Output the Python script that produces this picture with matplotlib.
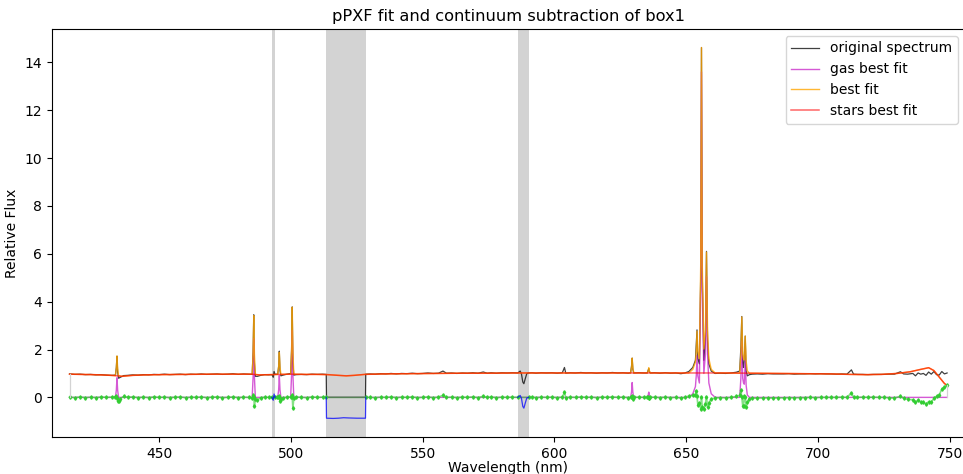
import numpy as np
import matplotlib
matplotlib.use("Agg")
import matplotlib.pyplot as plt

# stellar continuum (stars best fit)
star_wave = [416, 420, 425, 430, 433, 436, 440, 445, 450, 460, 470, 480, 485, 488,
             492, 496, 500, 505, 510, 514, 518, 521, 524, 528, 535, 545, 555, 565,
             575, 585, 595, 605, 615, 625, 635, 645, 655, 665, 675, 685, 695, 705,
             712, 718, 724, 730, 735, 739, 742, 744, 746, 748, 749]
star_flux = [0.97, 0.96, 0.95, 0.93, 0.91, 0.88, 0.92, 0.94, 0.95, 0.96, 0.97, 0.97, 0.97, 0.94,
             0.95, 0.96, 0.97, 0.96, 0.96, 0.95, 0.92, 0.90, 0.92, 0.96, 0.98, 0.99, 1.00, 1.01,
             1.01, 1.02, 1.02, 1.02, 1.02, 1.02, 1.02, 1.02, 1.02, 1.02, 1.01, 1.00, 0.99, 0.98,
             0.96, 0.95, 0.96, 1.00, 1.07, 1.17, 1.24, 1.12, 0.85, 0.58, 0.50]

# gas emission (gas best fit)
gas_wave = [416,
            433.4, 433.75, 434.0, 434.25, 434.6,
            485.3, 485.65, 485.9, 486.15, 486.5,
            495.0, 495.35, 495.6, 495.85, 496.2,
            499.9, 500.25, 500.5, 500.75, 501.1,
            628.9, 629.25, 629.5, 629.75, 630.1,
            635.2, 635.55, 635.8, 636.05, 636.4,
            651.0, 652.5, 653.5, 653.85, 654.1, 654.4, 655.0, 655.5, 655.8, 656.1,
            656.7, 657.3, 657.7, 658.1, 658.6, 659.5, 661.0,
            670.3, 670.75, 671.1, 671.45, 671.75, 672.05, 672.4, 672.75, 673.2, 674.0,
            749]
gas_flux = [0,
            0, 0.30, 0.82, 0.30, 0,
            0, 0.85, 2.45, 0.85, 0,
            0, 0.32, 0.92, 0.32, 0,
            0, 0.95, 2.80, 0.95, 0,
            0, 0.22, 0.62, 0.22, 0,
            0, 0.08, 0.22, 0.08, 0,
            0, 0.15, 0.45, 0.95, 1.75, 0.90, 0.60, 4.50, 13.60, 4.50,
            1.00, 1.80, 5.05, 1.80, 0.60, 0.15, 0,
            0, 0.80, 2.35, 0.80, 0.60, 0.55, 1.55, 0.50, 0.10, 0,
            0]

# total best fit
fit_wave = [416, 420, 425, 430, 433.4, 433.75, 434.0, 434.25, 434.6, 436, 440, 445, 450,
            460, 470, 480, 485.3, 485.65, 485.9, 486.15, 486.5, 488, 492, 495.0, 495.35,
            495.6, 495.85, 496.2, 499.9, 500.25, 500.5, 500.75, 501.1, 505, 510, 514, 518,
            521, 524, 528, 535, 545, 555, 565, 575, 585, 595, 605, 615, 625, 628.9, 629.25,
            629.5, 629.75, 630.1, 635.2, 635.55, 635.8, 636.05, 636.4, 645, 651.0, 652.5,
            653.5, 653.85, 654.1, 654.4, 655.0, 655.5, 655.8, 656.1, 656.7, 657.3, 657.7,
            658.1, 658.6, 659.5, 661.0, 665, 670.3, 670.75, 671.1, 671.45, 671.75, 672.05,
            672.4, 672.75, 673.2, 674.0, 675, 685, 695, 705, 712, 718, 724, 730, 735, 739,
            742, 744, 746, 748, 749]
fit_flux = [0.97, 0.96, 0.95, 0.93, 0.91, 1.21, 1.73, 1.21, 0.90, 0.88, 0.92, 0.94, 0.95,
            0.96, 0.97, 0.97, 0.97, 1.82, 3.42, 1.82, 0.96, 0.94, 0.95, 0.96, 1.28,
            1.88, 1.28, 0.96, 0.97, 1.92, 3.77, 1.92, 0.97, 0.96, 0.96, 0.95, 0.92,
            0.90, 0.92, 0.96, 0.98, 0.99, 1.00, 1.01, 1.01, 1.02, 1.02, 1.02, 1.02, 1.02, 1.02, 1.24,
            1.64, 1.24, 1.02, 1.02, 1.10, 1.24, 1.10, 1.02, 1.02, 1.02, 1.17,
            1.47, 1.97, 2.77, 1.92, 1.62, 5.52, 14.62, 5.52, 2.02, 2.82, 6.07,
            2.82, 1.62, 1.17, 1.02, 1.02, 1.01, 1.81, 3.36, 1.81, 1.61, 1.56,
            2.56, 1.51, 1.11, 1.01, 1.01, 1.00, 0.99, 0.98, 0.96, 0.95, 0.96, 1.00, 1.07, 1.17,
            1.24, 1.12, 0.85, 0.58, 0.50]

# original spectrum and residuals (original - best fit)
spec_wave = [416, 418, 420, 422, 424, 426, 428, 430, 432, 433.4,
             433.75, 434.0, 434.25, 434.6, 435.3, 436.5, 438, 440, 442, 444,
             446, 448, 450, 452, 454, 456, 458, 460, 462, 464,
             466, 468, 470, 472, 474, 476, 478, 480, 482, 484,
             485.3, 485.65, 485.9, 486.15, 486.5, 487.3, 488.5, 490, 491.5, 492.8,
             493.3, 493.6, 494.0, 494.7, 495.0, 495.35, 495.6, 495.85, 496.2, 497,
             498.5, 499.9, 500.25, 500.5, 500.75, 501.1, 502, 504, 506, 508,
             510, 512, 513.4, 513.5, 516, 518, 520, 522, 525, 528.3,
             528.4, 530, 532, 534, 536, 538, 540, 542, 544, 546,
             548, 550, 552, 554, 556, 557.7, 559, 561, 563, 565,
             567, 569, 571, 573, 574.5, 576, 578, 580, 582, 584,
             586.1, 587.0, 587.5, 588.0, 588.4, 588.9, 589.5, 590.2, 591.5, 593,
             595, 597, 599, 601, 603, 603.8, 604.3, 606, 608, 610,
             612, 614, 616, 618, 620, 622, 624, 626, 628, 628.9,
             629.25, 629.5, 629.75, 630.1, 632, 634, 635.2, 635.55, 635.8, 636.05,
             636.4, 638, 640, 642, 644, 646, 648, 649.5, 651.0, 652.5,
             653.5, 653.85, 654.1, 654.4, 655.0, 655.5, 655.8, 656.1, 656.7, 657.3,
             657.7, 658.1, 658.6, 659.5, 661, 663, 665, 667, 669, 670.3,
             670.75, 671.1, 671.45, 671.75, 672.05, 672.4, 672.75, 673.2, 674, 675,
             677, 679, 681, 683, 685, 687, 689, 691, 693, 695,
             697, 699, 701, 703, 705, 707, 709, 711, 712.7, 713.5,
             715, 717, 719, 721, 723, 725, 727, 729, 731.3, 732.5,
             734, 736, 737, 738, 739, 740, 741, 742, 743, 744,
             745, 746, 747, 748, 749]
spec_flux = [0.98, 0.96, 0.97, 0.95, 0.96, 0.94, 0.95, 0.93, 0.92, 0.93,
             1.25, 1.72, 1.05, 0.80, 0.84, 0.91, 0.92, 0.94, 0.93, 0.95,
             0.94, 0.96, 0.95, 0.97, 0.95, 0.96, 0.97, 0.95, 0.97, 0.96,
             0.98, 0.96, 0.97, 0.98, 0.96, 0.97, 0.99, 0.96, 0.98, 0.97,
             0.96, 1.90, 3.45, 1.45, 0.88, 0.88, 0.92, 0.95, 0.94, 0.95,
             0.84, 1.08, 0.96, 0.97, 0.98, 1.30, 1.93, 1.12, 0.90, 0.93,
             0.97, 1.00, 2.00, 3.78, 1.45, 0.93, 0.95, 0.96, 0.95, 0.97,
             0.96, 0.97, 0.96, 0.00, 0.00, 0.00, 0.00, 0.00, 0.00, 0.00,
             0.97, 0.98, 0.97, 0.99, 0.98, 1.00, 0.98, 1.00, 0.99, 1.01,
             0.99, 1.00, 1.02, 1.00, 1.01, 1.10, 1.01, 1.02, 1.00, 1.02,
             1.01, 1.03, 1.01, 1.06, 1.01, 1.03, 1.01, 1.03, 1.02, 1.03,
             1.02, 1.10, 0.97, 0.64, 0.57, 0.77, 0.99, 1.02, 1.03, 1.01,
             1.03, 1.02, 1.03, 1.01, 1.03, 1.25, 1.01, 1.03, 1.02, 1.04,
             1.02, 1.03, 1.01, 1.03, 1.02, 1.04, 1.02, 1.03, 1.01, 1.03,
             1.30, 1.64, 1.18, 1.02, 1.03, 1.02, 1.02, 1.12, 1.20, 1.07,
             1.02, 1.03, 1.01, 1.03, 1.01, 1.02, 0.99, 1.02, 1.08, 1.25,
             1.55, 2.25, 2.82, 1.62, 1.40, 5.05, 14.62, 5.10, 1.55, 2.55,
             6.10, 2.40, 1.40, 1.10, 1.00, 1.01, 1.00, 1.02, 1.05, 1.10,
             2.10, 3.38, 1.45, 1.25, 1.60, 2.56, 1.10, 0.90, 0.95, 0.97,
             0.98, 0.97, 0.99, 0.98, 0.98, 0.98, 0.99, 0.97, 0.98, 0.98,
             0.99, 0.98, 0.99, 0.98, 0.98, 0.97, 0.98, 0.97, 1.15, 0.97,
             0.96, 0.96, 0.95, 0.96, 0.96, 0.96, 0.97, 0.97, 1.07, 0.98,
             0.97, 1.00, 0.90, 1.02, 0.97, 1.00, 0.92, 1.06, 0.97, 1.08,
             0.95, 0.93, 1.08, 0.98, 1.02]
resid = [0.01, -0.01, 0.02, -0.01, 0.01, -0.01, 0.02, 0.00, 0.01, 0.02,
         0.04, -0.01, -0.16, -0.15, -0.05, 0.04, 0.01, 0.02, -0.01, 0.01,
         -0.01, 0.02, 0.00, 0.01, -0.01, 0.01, 0.02, -0.01, 0.01, 0.00,
         0.02, -0.01, 0.01, 0.02, -0.01, 0.00, 0.02, -0.01, 0.01, 0.00,
         -0.01, 0.08, 0.03, -0.38, -0.08, -0.10, -0.02, 0.01, 0.00, 0.00,
         -0.12, 0.14, 0.00, 0.01, 0.02, 0.02, 0.05, -0.16, -0.06, -0.02,
         0.01, 0.03, 0.08, 0.01, -0.45, -0.04, 0.02, 0.00, -0.01, 0.02,
         0.00, 0.01, 0.00, -0.87, -0.88, -0.87, -0.85, -0.86, -0.87, -0.87,
         0.00, 0.00, -0.01, 0.01, 0.00, 0.02, -0.01, 0.01, 0.00, 0.02,
         -0.01, 0.00, 0.02, -0.01, 0.01, 0.09, 0.00, 0.01, -0.01, 0.01,
         0.00, 0.02, -0.01, 0.05, 0.00, 0.02, -0.01, 0.01, 0.00, 0.01,
         0.00, 0.08, -0.05, -0.38, -0.45, -0.25, -0.03, 0.00, 0.01, -0.01,
         0.01, 0.00, 0.01, -0.01, 0.01, 0.22, -0.01, 0.01, 0.00, 0.02,
         0.00, 0.01, -0.01, 0.01, 0.00, 0.02, 0.00, 0.01, -0.01, 0.01,
         0.06, 0.00, -0.06, 0.00, 0.01, 0.00, 0.00, 0.02, -0.04, -0.03,
         0.00, 0.01, -0.01, 0.01, -0.01, 0.00, -0.03, 0.00, 0.06, 0.08,
         0.08, 0.28, 0.05, -0.30, -0.22, -0.47, 0.00, -0.42, -0.47, -0.27,
         0.03, -0.42, -0.22, -0.07, -0.02, -0.01, -0.02, 0.00, 0.04, 0.09,
         0.29, 0.02, -0.36, -0.36, 0.04, 0.00, -0.41, -0.21, -0.06, -0.04,
         -0.03, -0.03, -0.02, -0.03, -0.02, -0.02, -0.01, -0.02, -0.01, -0.01,
         0.00, -0.01, 0.00, 0.00, 0.00, 0.00, 0.01, 0.00, 0.19, 0.01,
         0.00, 0.01, 0.00, 0.01, 0.00, 0.00, -0.02, -0.03, 0.05, -0.04,
         -0.08, -0.10, -0.20, -0.12, -0.20, -0.21, -0.28, -0.18, -0.20, -0.04,
         0.05, 0.10, 0.35, 0.42, 0.52]

# masked wavelength ranges
mask_lo = [492.8, 513.4, 586.1]
mask_hi = [494.0, 528.4, 590.2]

spec_wave = np.array(spec_wave)
resid = np.array(resid)

plt.rcParams["font.size"] = 10
fig = plt.figure(figsize=(9.63, 4.74), dpi=100)
ax = fig.add_axes([0.054, 0.0781, 0.9477, 0.8608])

good = np.ones(len(spec_wave), dtype=bool)
for lo, hi in zip(mask_lo, mask_hi):
    ax.axvspan(lo, hi, facecolor="lightgray", zorder=0)
    good &= ~((spec_wave > lo) & (spec_wave < hi))

plt.plot(spec_wave, spec_flux, "k", linewidth=0.9, alpha=0.75, label="original spectrum")
plt.plot(gas_wave, gas_flux, "m", linewidth=1.0, alpha=0.65, label="gas best fit")
plt.plot(fit_wave, fit_flux, "orange", linewidth=1.0, alpha=0.8, label="best fit")
plt.plot(star_wave, star_flux, "r", linewidth=1.1, alpha=0.6, label="stars best fit")

plt.plot(spec_wave[good], resid[good], "-", color="limegreen", linewidth=1.2, alpha=0.6)
plt.plot(spec_wave[good], resid[good], "d", color="limegreen", mec="limegreen", ms=1.8)
for lo, hi in zip(mask_lo, mask_hi):
    sel = (spec_wave >= lo) & (spec_wave <= hi)
    plt.plot(spec_wave[sel], resid[sel], "blue", linewidth=0.9, alpha=0.75)

# light gray markers at the first and last good pixel
for x0, y0 in [(fit_wave[0], fit_flux[0]), (fit_wave[-1], fit_flux[-1])]:
    plt.plot([x0, x0], [0, y0], color="lightgray", linewidth=0.9)

span = fit_wave[-1] - fit_wave[0]
plt.xlim(fit_wave[0] - 0.02 * span, fit_wave[-1] + 0.02 * span)
ymin, ymax = min(resid), max(spec_flux)
plt.ylim(ymin - 0.05 * (ymax - ymin), ymax + 0.05 * (ymax - ymin))

plt.xlabel("Wavelength (nm)", labelpad=0)
plt.ylabel("Relative Flux")
plt.title("pPXF fit and continuum subtraction of box1", fontsize=11.7)
plt.legend(loc="upper right")

plt.savefig("out.png", dpi=100)
